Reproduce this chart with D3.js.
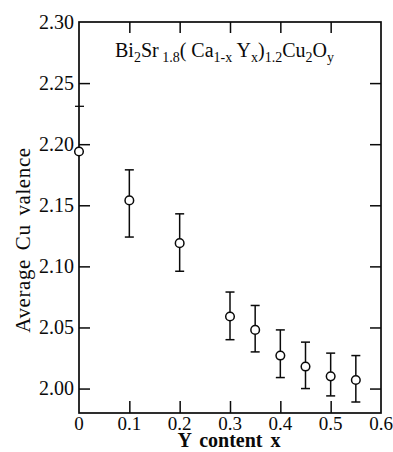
<!DOCTYPE html>
<html>
<head>
<meta charset="utf-8">
<script src="https://cdn.jsdelivr.net/npm/d3@7/dist/d3.min.js"></script>
<style>
  body { margin: 0; background: #fff; }
</style>
</head>
<body>
<svg width="393" height="452" font-family="'Liberation Serif', 'Times New Roman', serif"></svg>
<script>
// data
var yContent = [0, 0.1, 0.2, 0.3, 0.35, 0.4, 0.45, 0.5, 0.55];
var valence  = [2.194, 2.154, 2.119, 2.059, 2.048, 2.027, 2.018, 2.010, 2.007];
var errTop   = [null, 2.179, 2.143, 2.079, 2.068, 2.048, 2.038, 2.029, 2.027];
var errBot   = [null, 2.124, 2.096, 2.040, 2.030, 2.009, 2.000, 1.994, 1.989];
var xTicks = [0, 0.1, 0.2, 0.3, 0.4, 0.5, 0.6];
var yTicks = [2.00, 2.05, 2.10, 2.15, 2.20, 2.25, 2.30];

var svg = d3.select("svg");
var plotL = 79, plotR = 381, plotT = 22, plotB = 413;

var x = d3.scaleLinear().domain([0, 0.6]).range([plotL, plotR]);
var y = d3.scaleLinear().domain([1.98, 2.30]).range([plotB, plotT]);

var ink = "#0a0a0a";

// frame
svg.append("rect")
  .attr("x", plotL).attr("y", plotT)
  .attr("width", plotR - plotL).attr("height", plotB - plotT)
  .attr("fill", "none").attr("stroke", ink).attr("stroke-width", 1.7);

// ticks, all pointing inwards
var inner = xTicks.slice(1, -1);
svg.append("g").attr("transform", "translate(0," + plotB + ")")
  .call(d3.axisBottom(x).tickValues(inner).tickSize(-12).tickFormat(""))
  .call(function(g){ g.select(".domain").remove(); });
svg.append("g").attr("transform", "translate(0," + plotT + ")")
  .call(d3.axisTop(x).tickValues(inner).tickSize(-11).tickFormat(""))
  .call(function(g){ g.select(".domain").remove(); });
var yInner = yTicks.slice(0, -1);
svg.append("g").attr("transform", "translate(" + plotL + ",0)")
  .call(d3.axisLeft(y).tickValues(yInner).tickSize(-11).tickFormat(""))
  .call(function(g){ g.select(".domain").remove(); });
svg.append("g").attr("transform", "translate(" + plotR + ",0)")
  .call(d3.axisRight(y).tickValues(yInner).tickSize(-11).tickFormat(""))
  .call(function(g){ g.select(".domain").remove(); });
svg.selectAll(".tick line").attr("stroke", ink).attr("stroke-width", 1.5);

// little cross mark on the left axis (in the scan)
svg.append("line")
  .attr("x1", plotL - 4).attr("x2", plotL + 5)
  .attr("y1", y(2.231)).attr("y2", y(2.231))
  .attr("stroke", ink).attr("stroke-width", 1.3);

// tick labels
svg.append("g").selectAll("text")
  .data(yTicks).enter().append("text")
  .attr("x", plotL - 5)
  .attr("y", function(d){ return y(d) + 6.5; })
  .attr("text-anchor", "end")
  .attr("font-size", "20px")
  .attr("fill", ink)
  .text(function(d){ return d.toFixed(2); });

svg.append("g").selectAll("text")
  .data(xTicks).enter().append("text")
  .attr("x", function(d){ return x(d); })
  .attr("y", 430)
  .attr("text-anchor", "middle")
  .attr("font-size", "19px")
  .attr("fill", ink)
  .text(function(d){ return d === 0 ? "0" : d.toFixed(1); });

// axis titles
svg.append("text")
  .attr("x", 229).attr("y", 447)
  .attr("text-anchor", "middle")
  .attr("font-size", "20px")
  .attr("font-weight", "bold")
  .attr("word-spacing", "3px")
  .attr("fill", ink)
  .text("Y content x");

svg.append("text")
  .attr("transform", "translate(30,240) rotate(-90)")
  .attr("text-anchor", "middle")
  .attr("font-size", "21px")
  .attr("letter-spacing", "0.6px")
  .attr("word-spacing", "3px")
  .attr("fill", ink)
  .text("Average Cu valence");

// formula
var f = svg.append("text").attr("x", 115).attr("y", 57).attr("font-size", "20px").attr("fill", ink);
var parts = [
  ["Bi", 0], ["2", 1], ["Sr", 0], [" 1.8", 1], ["( Ca", 0], ["1-x", 1],
  [" Y", 0], ["x", 1], [")", 0], ["1.2", 1], ["Cu", 0], ["2", 1], ["O", 0], ["y", 1]
];
var prev = 0;
parts.forEach(function(p){
  var dy = (p[1] - prev) * 5;
  f.append("tspan")
    .attr("dy", dy)
    .attr("font-size", p[1] ? "14px" : "20px")
    .text(p[0]);
  prev = p[1];
});

// error bars
var pts = yContent.map(function(d, i){
  return { x: d, v: valence[i], hi: errTop[i], lo: errBot[i] };
});
var bars = svg.append("g").selectAll("g")
  .data(pts.filter(function(d){ return d.hi !== null; }))
  .enter().append("g").attr("stroke", ink).attr("stroke-width", 1.5);
bars.append("line")
  .attr("x1", function(d){ return x(d.x); }).attr("x2", function(d){ return x(d.x); })
  .attr("y1", function(d){ return y(d.hi); }).attr("y2", function(d){ return y(d.lo); });
bars.append("line")
  .attr("x1", function(d){ return x(d.x) - 4.5; }).attr("x2", function(d){ return x(d.x) + 4.5; })
  .attr("y1", function(d){ return y(d.hi); }).attr("y2", function(d){ return y(d.hi); });
bars.append("line")
  .attr("x1", function(d){ return x(d.x) - 4.5; }).attr("x2", function(d){ return x(d.x) + 4.5; })
  .attr("y1", function(d){ return y(d.lo); }).attr("y2", function(d){ return y(d.lo); });

// markers
svg.append("g").selectAll("circle")
  .data(pts).enter().append("circle")
  .attr("cx", function(d){ return x(d.x); })
  .attr("cy", function(d){ return y(d.v); })
  .attr("r", 4.3)
  .attr("fill", "#fff")
  .attr("stroke", ink)
  .attr("stroke-width", 1.5);
</script>
</body>
</html>
